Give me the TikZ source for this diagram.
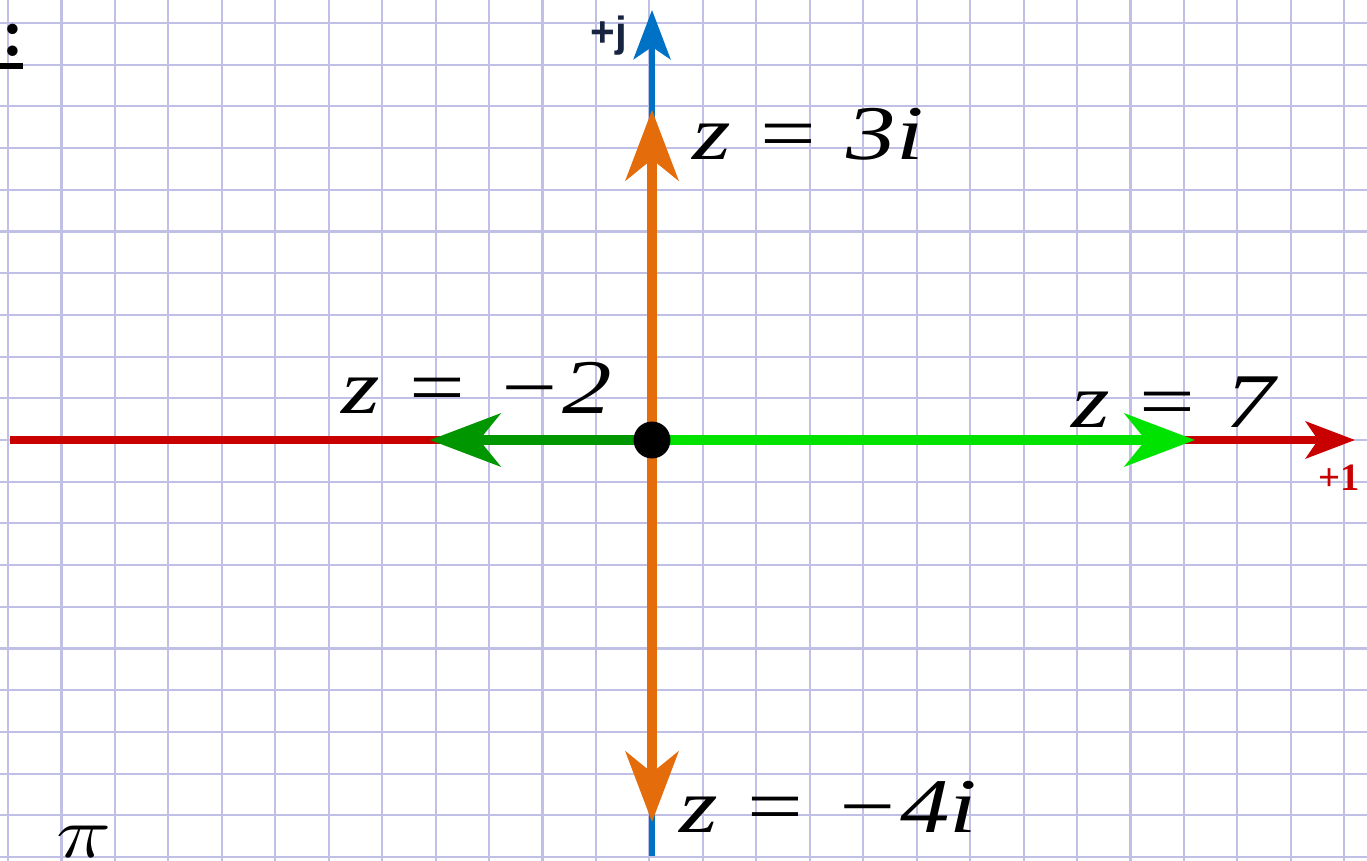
\documentclass[tikz,border=0pt]{standalone}
\usepackage{amsmath}
\usepackage{graphicx}
\usepackage{fontspec}
\usepackage{xcolor}
\usetikzlibrary{arrows.meta}

\newfontfamily\labfont{Liberation Serif}
\newfontfamily\axfont{Liberation Sans}

\definecolor{gridline}{RGB}{192,192,230}
\definecolor{axisred}{RGB}{200,0,0}
\definecolor{axisblue}{RGB}{0,114,198}
\definecolor{vecorange}{RGB}{228,108,10}
\definecolor{vecdkgreen}{RGB}{0,150,0}
\definecolor{veclgreen}{RGB}{0,226,0}
\definecolor{labnavy}{RGB}{22,36,64}

% the sheet was photographed a little stretched sideways
\newcommand{\wide}[1]{\scalebox{1.28}[1]{#1}}
\newcommand{\zeq}[1]{\wide{\labfont\fontsize{22}{26}\selectfont
    \itshape z\hspace{0.3em}\upshape=\hspace{0.3em}\itshape #1}}

\begin{document}
\begin{tikzpicture}[
    x=0.01cm, y=-0.01cm,
    gridln/.style  = {draw=gridline, line width=0.6pt},
    raxis/.style   = {draw=axisred, line width=2pt,
                      -{Stealth[length=14pt,width=10.5pt,inset=3.5pt]}},
    jaxis/.style   = {draw=axisblue, line width=1.7pt,
                      -{Stealth[length=14pt,width=10.5pt,inset=3.5pt]}},
    vec/.style     = {line width=2.8pt,
                      -{Stealth[length=20pt,width=15pt,inset=6pt]}},
    zlab/.style    = {anchor=base west, inner sep=0pt},
    dot/.style     = {circle, fill=black, inner sep=0pt, minimum size=10.5pt},
]
\useasboundingbox (0,0) rectangle (1367,861);
\fill[white] (0,0) rectangle (1367,861);

% =============================== squared paper ===============================
\foreach \k in {0,...,25} {
    \draw[gridln] ({8+53.45*\k},0) -- ({8+53.45*\k},861);
}
\foreach \k in {-10,...,10} {
    \draw[gridln] (0,{440-41.7*\k}) -- (1367,{440-41.7*\k});
}

% =============================== axes ========================================
\coordinate (O)  at (652,440);
\coordinate (Rs) at (10,440);
\coordinate (Re) at (1355,440);
\coordinate (Jb) at (652,856);
\coordinate (Jt) at (652,10);
\draw[raxis] (Rs) -- (Re);
\draw[jaxis] (Jb) -- (Jt);
\node[font=\axfont\bfseries\fontsize{12}{14}\selectfont, color=labnavy,
      anchor=base west, inner sep=0pt] (jlab) at (590,47) {+j};
\node[font=\labfont\bfseries\fontsize{11}{13}\selectfont, color=axisred,
      anchor=base west, inner sep=0pt] (onelab) at (1318,490) {+1};

% =============================== labels ======================================
\node[zlab] (L3i) at (692,160) {\zeq{3i}};
\node[zlab] (L2)  at (341,413) {\zeq{−2}};
\node[zlab] (L7)  at (1071,428) {\zeq{7}};
\node[zlab] (L4i) at (679,832) {\zeq{−4i}};

% =============================== vectors =====================================
\coordinate (P3) at (652,110);
\coordinate (M4) at (652,822);
\coordinate (M2) at (430,440);
\coordinate (P7) at (1195,440);
\draw[vec, draw=vecorange, fill=vecorange] (O) -- (P3);
\draw[vec, draw=vecorange, fill=vecorange] (O) -- (M4);
\draw[vec, draw=vecdkgreen, fill=vecdkgreen] (O) -- (M2);
\draw[vec, draw=veclgreen, fill=veclgreen] (O) -- (P7);
\node[dot] (odot) at (O) {};

% cut-off marks at the edges of the sheet
\node[font=\bfseries\huge, anchor=base, inner sep=0pt]
     (colon) at (13,57) {:};
\fill (-5,63) rectangle (23,69);
\node[font=\huge, anchor=base west, inner sep=0pt]
     (pilab) at (56,857) {\wide{$\pi$}};
\end{tikzpicture}
\end{document}
